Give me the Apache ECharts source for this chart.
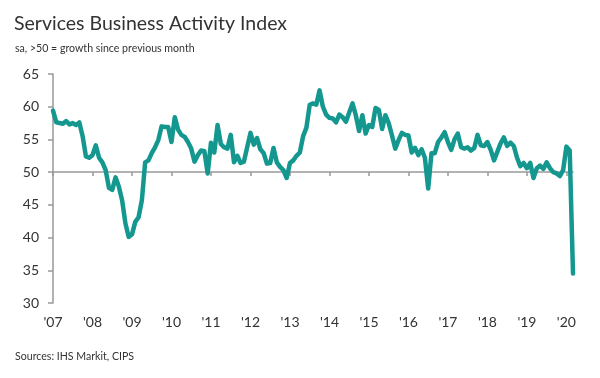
<!DOCTYPE html>
<html>
<head>
<meta charset="utf-8">
<script src="https://cdn.jsdelivr.net/npm/echarts@6/dist/echarts.min.js"></script>
<style>
html,body{margin:0;padding:0;background:#fff;}
#chart{width:600px;height:378px;}
</style>
</head>
<body>
<div id="chart"></div>
<script>
// Monthly values, Jan 2007 - Mar 2020
const v2007 = [59.4, 57.6, 57.5, 57.4, 57.8, 57.3, 57.5, 57.2, 57.6, 55.5, 52.4, 52.2];
const v2008 = [52.6, 54.1, 52.2, 51.5, 50.3, 47.6, 47.3, 49.2, 47.8, 45.7, 42.2, 40.1];
const v2009 = [40.5, 42.4, 43.1, 45.7, 51.5, 51.8, 52.9, 53.8, 54.9, 57.0, 56.9, 56.9];
const v2010 = [54.6, 58.4, 56.5, 55.7, 55.4, 54.6, 53.6, 51.6, 52.6, 53.3, 53.2, 49.8];
const v2011 = [54.5, 53.0, 57.2, 54.3, 53.8, 53.6, 55.7, 51.5, 52.5, 51.4, 51.6, 53.8];
const v2012 = [56.0, 54.2, 55.2, 53.5, 52.9, 51.3, 51.4, 53.7, 51.5, 50.8, 50.3, 49.1];
const v2013 = [51.4, 51.8, 52.5, 53.0, 55.5, 56.8, 60.3, 60.5, 60.3, 62.5, 60.0, 58.8];
const v2014 = [58.3, 58.2, 57.6, 58.8, 58.4, 57.7, 59.1, 60.5, 58.7, 56.3, 58.7, 55.9];
const v2015 = [57.2, 56.9, 59.8, 59.5, 56.6, 58.7, 57.5, 55.6, 53.6, 54.9, 56.0, 55.7];
const v2016 = [55.6, 53.0, 53.7, 52.6, 53.5, 52.2, 47.5, 52.9, 52.9, 54.6, 55.3, 56.1];
const v2017 = [54.6, 53.4, 55.0, 55.9, 53.8, 53.6, 53.8, 53.3, 53.7, 55.7, 54.1, 54.0];
const v2018 = [54.6, 53.4, 51.8, 53.1, 54.4, 55.3, 54.0, 54.5, 54.0, 52.2, 50.9, 51.4];
const v2019 = [50.6, 51.4, 49.1, 50.6, 51.0, 50.5, 51.5, 50.6, 50.0, 49.8, 49.4, 50.3];
const v2020 = [53.9, 53.3, 34.5];

const yearLabels = ["'07","'08","'09","'10","'11","'12","'13","'14","'15","'16","'17","'18","'19","'20"];
const yTicks = [30, 35, 40, 45, 50, 55, 60, 65];

const yearly = [v2007,v2008,v2009,v2010,v2011,v2012,v2013,v2014,v2015,v2016,v2017,v2018,v2019,v2020];
const categories = [];
const values = [];
yearly.forEach((arr, yi) => {
  arr.forEach((v, mi) => {
    categories.push(mi === 0 ? yearLabels[yi] : '');
    values.push(v);
  });
});

const chart = echarts.init(document.getElementById('chart'), null, {renderer: 'canvas'});
const font = "'Source Sans Pro','Lato','Noto Sans',sans-serif";
chart.setOption({
  animation: false,
  backgroundColor: '#fff',
  title: [
    {text: 'Services Business Activity Index', left: 9, top: 9,
     textStyle: {fontFamily: font, fontSize: 19.5, fontWeight: 'normal', color: '#333'}},
    {text: 'sa, >50 = growth since previous month', left: 10, top: 38,
     textStyle: {fontFamily: font, fontSize: 10.6, fontWeight: 'normal', color: '#333'}},
    {text: 'Sources: IHS Markit, CIPS', left: 10, top: 346,
     textStyle: {fontFamily: font, fontSize: 10.6, fontWeight: 'normal', color: '#333'}}
  ],
  grid: {left: 53, right: 27, top: 74, bottom: 75, containLabel: false},
  xAxis: {
    type: 'category',
    data: categories,
    boundaryGap: false,
    position: 'bottom',
    offset: -131,
    axisLine: {show: true, lineStyle: {color: '#999', width: 1.5}},
    axisTick: {show: true, length: 4, inside: false, lineStyle: {color: '#999', width: 1.5},
      interval: (i, v) => v !== ''},
    axisLabel: {show: true, margin: 143, interval: (i, v) => v !== '',
      fontFamily: font, fontSize: 14, color: '#333'},
    splitLine: {show: false}
  },
  yAxis: {
    type: 'value',
    min: yTicks[0], max: yTicks[yTicks.length - 1], interval: 5,
    axisLine: {show: true, lineStyle: {color: '#999', width: 1.5}},
    axisTick: {show: true, length: 5, lineStyle: {color: '#999', width: 1.5}},
    axisLabel: {margin: 14, fontFamily: font, fontSize: 14, color: '#333'},
    splitLine: {show: false}
  },
  series: [{
    type: 'line',
    data: values,
    symbol: 'none',
    smooth: false,
    lineStyle: {color: '#13978f', width: 4.5, join: 'round', cap: 'round'}
  }]
});
</script>
</body>
</html>
